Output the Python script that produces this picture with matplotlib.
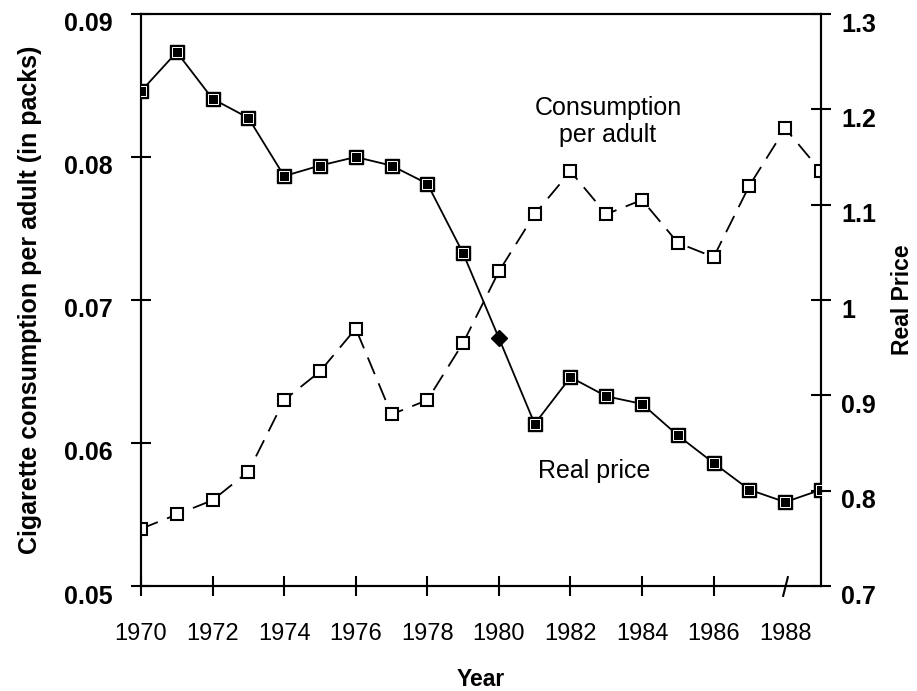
import numpy as np
import matplotlib
matplotlib.use('Agg')
import matplotlib.pyplot as plt
from matplotlib.transforms import ScaledTranslation

plt.rcParams['font.family'] = ['Liberation Sans', 'DejaVu Sans']

# Data
years = list(range(1970, 1990))
consumption = [0.054, 0.055, 0.056, 0.058, 0.063, 0.065, 0.068, 0.062, 0.063, 0.067,
               0.072, 0.076, 0.079, 0.076, 0.077, 0.074, 0.073, 0.078, 0.082, 0.079]
real_price = [1.219, 1.260, 1.211, 1.191, 1.130, 1.141, 1.150, 1.141, 1.122, 1.049,
              0.960, 0.870, 0.919, 0.899, 0.891, 0.858, 0.829, 0.801, 0.788, 0.801]
diamond_year = 1980

x_ticks = list(range(1970, 1989, 2))
left_ticks = [0.05, 0.06, 0.07, 0.08, 0.09]
right_ticks = [0.7, 0.8, 0.9, 1.0, 1.1, 1.2, 1.3]
right_labels = ['0.7', '0.8', '0.9', '1', '1.1', '1.2', '1.3']

fig = plt.figure(figsize=(9.17, 6.91), dpi=100)
ax = fig.add_axes([141 / 917, 1 - 586 / 691, 680 / 917, 572 / 691])
ax2 = ax.twinx()

# consumption: open squares, dashed
ax.plot(years, consumption, color='black', linestyle=(0, (10, 5.5)), linewidth=1.3,
        marker='s', markersize=9, markerfacecolor='white', markeredgecolor='black',
        markeredgewidth=1.5, zorder=3)

# real price: filled squares, solid, with diamond at 1980
sq_x = [y for y in years if y != diamond_year]
sq_p = [p for y, p in zip(years, real_price) if y != diamond_year]
dm_p = [p for y, p in zip(years, real_price) if y == diamond_year]
ax2.plot(years, real_price, color='black', linewidth=1.3, zorder=3)
ax2.plot(sq_x, sq_p, linestyle='none', marker='s', markersize=9.5,
         markerfacecolor='black', markeredgecolor='black', zorder=4)
ax2.plot(sq_x, sq_p, linestyle='none', marker='s', markersize=7.5,
         markerfacecolor='black', markeredgecolor='white', markeredgewidth=0.7, zorder=5)
ax2.plot([diamond_year], dm_p, linestyle='none', marker='D', markersize=8.5,
         markerfacecolor='black', markeredgecolor='black', zorder=5)

ax.set_xlim(1970, 1989)
ax.set_ylim(0.05, 0.09)
ax2.set_ylim(0.7, 1.3)

ax.set_xticks(x_ticks)
ax.set_xticklabels([str(v) for v in x_ticks])
ax.set_yticks(left_ticks)
ax.set_yticklabels(['0.05', '0.06', '0.07', '0.08', '0.09'])
ax2.set_yticks(right_ticks)
ax2.set_yticklabels(right_labels)

for a in (ax, ax2):
    for s in a.spines.values():
        s.set_linewidth(1.5)

ax.tick_params(axis='x', direction='inout', length=15, width=1.5, pad=19, labelsize=17)
ax.tick_params(axis='y', direction='inout', length=15, width=1.5, pad=13, labelsize=18)
ax2.tick_params(axis='y', direction='inout', length=15, width=1.5, pad=7, labelsize=18)

for lab in ax.get_yticklabels() + ax2.get_yticklabels():
    lab.set_fontweight('bold')
    lab.set_transform(lab.get_transform() + ScaledTranslation(0, -8 / 100, fig.dpi_scale_trans))

# slanted tick at 1988
ax.xaxis.get_major_ticks()[-1].tick1line.set_marker([(-0.25, -1), (0.25, 1)])

ax.set_xlabel('Year', fontsize=16.5, fontweight='bold', labelpad=17)
ax.set_ylabel('Cigarette consumption per adult (in packs)', fontsize=18, fontweight='bold', labelpad=16)
ax2.set_ylabel('Real Price', fontsize=16.5, fontweight='bold', labelpad=11)

ax.text(1983.05, 0.0825, 'Consumption\nper adult', ha='center', va='center', fontsize=18,
        linespacing=1.15)
ax2.text(1982.65, 0.821, 'Real price', ha='center', va='center', fontsize=18)

fig.savefig('out.png', dpi=100)
